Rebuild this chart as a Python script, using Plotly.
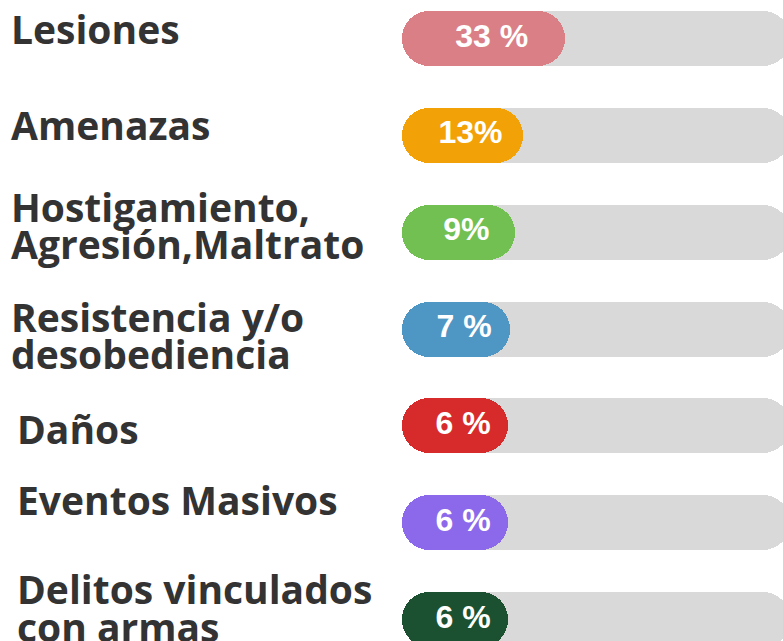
import plotly.graph_objects as go

# ---- data ----
categories = [
    "Lesiones",
    "Amenazas",
    "Hostigamiento,<br>Agresión,Maltrato",
    "Resistencia y/o<br>desobediencia",
    "Daños",
    "Eventos Masivos",
    "Delitos vinculados<br>con armas",
]
values = [33, 13, 9, 7, 6, 6, 6]
value_labels = ["33 %", "13%", "9%", "7 %", "6 %", "6 %", "6 %"]
colors = ["#db7f87", "#f2a106", "#72bf52", "#4e96c4", "#d72b2b", "#8c68ea", "#1b5130"]

# ---- layout constants (figure pixels) ----
W, H = 783, 641
PX_PER_UNIT = 2.116          # horizontal scale of the pills
OFF = 44.19                  # pill origin offset (units) so short pills keep a visible body
LEFT_PX = 402                # pixel of the pills' left edge
BAR_PX = 55                  # bar thickness in px
TRACK_END_PX = 790           # grey track right end (just beyond the visible edge)
TEXT_NUDGE_PX = 8            # percentage text sits a little right of the pill centre
TRACK = "#d9d9d9"

XMIN = -OFF - LEFT_PX / PX_PER_UNIT
XMAX = XMIN + W / PX_PER_UNIT
track_end = XMIN + TRACK_END_PX / PX_PER_UNIT

ROW_TOP, ROW_BOTTOM = 38.5, 619.5
n = len(categories)
row_px = (ROW_BOTTOM - ROW_TOP) / (n - 1)
y_top = -ROW_TOP / row_px
y_bottom = (n - 1) + (H - ROW_BOTTOM) / row_px
bar_w = BAR_PX / row_px

idx = list(range(n))

fig = go.Figure()
# grey tracks
fig.add_trace(go.Bar(
    y=idx, x=[track_end + OFF] * n, base=[-OFF] * n, orientation="h",
    width=bar_w, marker=dict(color=TRACK, cornerradius="50%", line_width=0),
    hoverinfo="skip", showlegend=False,
))
# coloured pills
fig.add_trace(go.Bar(
    y=idx, x=[v + OFF for v in values], base=[-OFF] * n, orientation="h",
    width=bar_w, marker=dict(color=colors, cornerradius="50%", line_width=0),
    customdata=value_labels, hovertemplate="%{customdata}<extra></extra>",
    showlegend=False,
))
# percentage labels on top of the pills
fig.add_trace(go.Scatter(
    y=idx, x=[(v - OFF) / 2 + TEXT_NUDGE_PX / PX_PER_UNIT for v in values], mode="text",
    text=value_labels, textposition="middle center",
    textfont=dict(family="Liberation Sans, Arial", size=32, color="#ffffff", weight="bold"),
    hoverinfo="skip", showlegend=False, cliponaxis=False,
))

# category labels, one annotation per line with tight line spacing
LINE_PX = 37.5
LABEL_NUDGE = [10, 11, 7, -6, -3, 23, 12]   # px above the row centre
annotations = []
for i, lab in enumerate(categories):
    lines = lab.split("<br>")
    x_left = 9 if i < 4 else 15
    for j, line in enumerate(lines):
        ys = LABEL_NUDGE[i] + ((len(lines) - 1) / 2 - j) * LINE_PX
        annotations.append(dict(
            x=x_left / W, xref="paper", y=i, yref="y", yshift=ys,
            text=line, showarrow=False, xanchor="left", yanchor="middle",
            font=dict(family="Open Sans", size=39, color="#333333", weight="bold"),
        ))

fig.update_layout(
    width=W, height=H,
    margin=dict(l=0, r=0, t=0, b=0),
    paper_bgcolor="white", plot_bgcolor="white",
    barmode="overlay", bargap=0,
    xaxis=dict(range=[XMIN, XMAX], visible=False, fixedrange=True),
    yaxis=dict(range=[y_bottom, y_top], visible=False, fixedrange=True),
    annotations=annotations,
)

fig.write_html(
    "out.html",
    config={"displayModeBar": False},
    post_script="document.body.style.margin='0';document.body.style.overflow='hidden';",
)
